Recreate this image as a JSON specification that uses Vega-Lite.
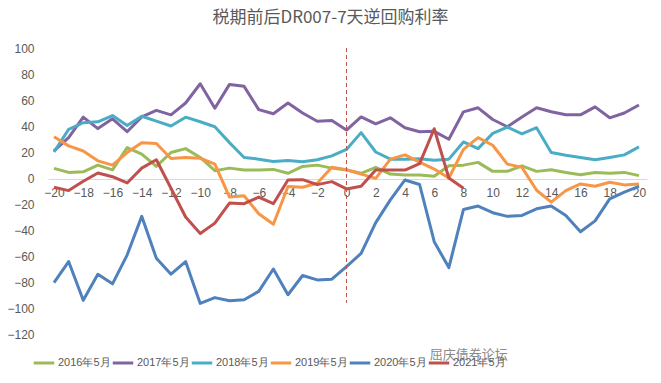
{
  "$schema": "https://vega.github.io/schema/vega-lite/v6.json",
  "width": 599,
  "height": 286,
  "autosize": {"type": "none"},
  "padding": {"left": 48, "top": 48, "right": 14, "bottom": 49},
  "background": "white",
  "config": {
    "view": {"stroke": null},
    "font": "Liberation Sans",
    "axis": {"labelFont": "Liberation Sans", "labelColor": "#595959", "labelFontSize": 12, "labelOverlap": false},
    "legend": {"labelFont": "Liberation Sans", "labelColor": "#595959", "labelFontSize": 11}
  },
  "title": {
    "text": "税期前后DR007-7天逆回购利率",
    "font": "Noto Sans CJK SC",
    "fontSize": 17,
    "fontWeight": "normal",
    "color": "#595959",
    "anchor": "middle",
    "frame": "group",
    "offset": 15,
    "dx": -17
  },
  "datasets": {
    "series": [
      {"s":"2016年5月","x":-20,"v":7.4},{"s":"2016年5月","x":-19,"v":4.3},{"s":"2016年5月","x":-18,"v":4.8},{"s":"2016年5月","x":-17,"v":9.9},{"s":"2016年5月","x":-16,"v":6.3},{"s":"2016年5月","x":-15,"v":23.4},{"s":"2016年5月","x":-14,"v":18.3},{"s":"2016年5月","x":-13,"v":8.9},{"s":"2016年5月","x":-12,"v":19.6},{"s":"2016年5月","x":-11,"v":22.6},{"s":"2016年5月","x":-10,"v":15.8},{"s":"2016年5月","x":-9,"v":5.6},{"s":"2016年5月","x":-8,"v":7.6},{"s":"2016年5月","x":-7,"v":6.1},{"s":"2016年5月","x":-6,"v":6.1},{"s":"2016年5月","x":-5,"v":6.6},{"s":"2016年5月","x":-4,"v":3.6},{"s":"2016年5月","x":-3,"v":8.9},{"s":"2016年5月","x":-2,"v":9.9},{"s":"2016年5月","x":-1,"v":7.6},{"s":"2016年5月","x":0,"v":6.1},{"s":"2016年5月","x":1,"v":3.6},{"s":"2016年5月","x":2,"v":8.2},{"s":"2016年5月","x":3,"v":3.0},{"s":"2016年5月","x":4,"v":2.3},{"s":"2016年5月","x":5,"v":2.3},{"s":"2016年5月","x":6,"v":1.3},{"s":"2016年5月","x":7,"v":9.4},{"s":"2016年5月","x":8,"v":9.9},{"s":"2016年5月","x":9,"v":12.0},{"s":"2016年5月","x":10,"v":5.1},{"s":"2016年5月","x":11,"v":5.1},{"s":"2016年5月","x":12,"v":9.4},{"s":"2016年5月","x":13,"v":5.1},{"s":"2016年5月","x":14,"v":6.3},{"s":"2016年5月","x":15,"v":4.3},{"s":"2016年5月","x":16,"v":2.5},{"s":"2016年5月","x":17,"v":4.3},{"s":"2016年5月","x":18,"v":3.6},{"s":"2016年5月","x":19,"v":4.3},{"s":"2016年5月","x":20,"v":1.8},

      {"s":"2017年5月","x":-20,"v":20.8},{"s":"2017年5月","x":-19,"v":31},{"s":"2017年5月","x":-18,"v":46.8},{"s":"2017年5月","x":-17,"v":38},{"s":"2017年5月","x":-16,"v":45.5},{"s":"2017年5月","x":-15,"v":35.6},{"s":"2017年5月","x":-14,"v":47},{"s":"2017年5月","x":-13,"v":52},{"s":"2017年5月","x":-12,"v":48.6},{"s":"2017年5月","x":-11,"v":57.7},{"s":"2017年5月","x":-10,"v":72.5},{"s":"2017年5月","x":-9,"v":53.7},{"s":"2017年5月","x":-8,"v":72},{"s":"2017年5月","x":-7,"v":70.5},{"s":"2017年5月","x":-6,"v":52.6},{"s":"2017年5月","x":-5,"v":49.4},{"s":"2017年5月","x":-4,"v":57.7},{"s":"2017年5月","x":-3,"v":50},{"s":"2017年5月","x":-2,"v":43.7},{"s":"2017年5月","x":-1,"v":44.2},{"s":"2017年5月","x":0,"v":36.9},{"s":"2017年5月","x":1,"v":47},{"s":"2017年5月","x":2,"v":41.7},{"s":"2017年5月","x":3,"v":46.3},{"s":"2017年5月","x":4,"v":38.7},{"s":"2017年5月","x":5,"v":35.6},{"s":"2017年5月","x":6,"v":35.9},{"s":"2017年5月","x":7,"v":29.8},{"s":"2017年5月","x":8,"v":50.9},{"s":"2017年5月","x":9,"v":54},{"s":"2017年5月","x":10,"v":45},{"s":"2017年5月","x":11,"v":39.4},{"s":"2017年5月","x":12,"v":47},{"s":"2017年5月","x":13,"v":54},{"s":"2017年5月","x":14,"v":51},{"s":"2017年5月","x":15,"v":48.6},{"s":"2017年5月","x":16,"v":48.6},{"s":"2017年5月","x":17,"v":54.7},{"s":"2017年5月","x":18,"v":46.3},{"s":"2017年5月","x":19,"v":50},{"s":"2017年5月","x":20,"v":56.2},

      {"s":"2018年5月","x":-20,"v":20},{"s":"2018年5月","x":-19,"v":37.4},{"s":"2018年5月","x":-18,"v":42.5},{"s":"2018年5月","x":-17,"v":43.2},{"s":"2018年5月","x":-16,"v":48},{"s":"2018年5月","x":-15,"v":40.4},{"s":"2018年5月","x":-14,"v":47.5},{"s":"2018年5月","x":-13,"v":43.7},{"s":"2018年5月","x":-12,"v":40},{"s":"2018年5月","x":-11,"v":46.8},{"s":"2018年5月","x":-10,"v":43.3},{"s":"2018年5月","x":-9,"v":39.4},{"s":"2018年5月","x":-8,"v":27.2},{"s":"2018年5月","x":-7,"v":15.8},{"s":"2018年5月","x":-6,"v":14.5},{"s":"2018年5月","x":-5,"v":12.7},{"s":"2018年5月","x":-4,"v":13.5},{"s":"2018年5月","x":-3,"v":12.5},{"s":"2018年5月","x":-2,"v":14},{"s":"2018年5月","x":-1,"v":17},{"s":"2018年5月","x":0,"v":22},{"s":"2018年5月","x":1,"v":34.9},{"s":"2018年5月","x":2,"v":20},{"s":"2018年5月","x":3,"v":14.5},{"s":"2018年5月","x":4,"v":14.5},{"s":"2018年5月","x":5,"v":14.8},{"s":"2018年5月","x":6,"v":13.7},{"s":"2018年5月","x":7,"v":14.5},{"s":"2018年5月","x":8,"v":27.7},{"s":"2018年5月","x":9,"v":22.6},{"s":"2018年5月","x":10,"v":34.3},{"s":"2018年5月","x":11,"v":39.2},{"s":"2018年5月","x":12,"v":34},{"s":"2018年5月","x":13,"v":38.7},{"s":"2018年5月","x":14,"v":19.6},{"s":"2018年5月","x":15,"v":17.5},{"s":"2018年5月","x":16,"v":15.8},{"s":"2018年5月","x":17,"v":14},{"s":"2018年5月","x":18,"v":15.8},{"s":"2018年5月","x":19,"v":17.8},{"s":"2018年5月","x":20,"v":23.9},

      {"s":"2019年5月","x":-20,"v":31.8},{"s":"2019年5月","x":-19,"v":24.7},{"s":"2019年5月","x":-18,"v":20.8},{"s":"2019年5月","x":-17,"v":13.2},{"s":"2019年5月","x":-16,"v":9.9},{"s":"2019年5月","x":-15,"v":19.6},{"s":"2019年5月","x":-14,"v":27.2},{"s":"2019年5月","x":-13,"v":26.5},{"s":"2019年5月","x":-12,"v":15},{"s":"2019年5月","x":-11,"v":15.8},{"s":"2019年5月","x":-10,"v":15.2},{"s":"2019年5月","x":-9,"v":10.7},{"s":"2019年5月","x":-8,"v":-14.7},{"s":"2019年5月","x":-7,"v":-13.7},{"s":"2019年5月","x":-6,"v":-27.5},{"s":"2019年5月","x":-5,"v":-35.6},{"s":"2019年5月","x":-4,"v":-6.6},{"s":"2019年5月","x":-3,"v":-7.1},{"s":"2019年5月","x":-2,"v":-4},{"s":"2019年5月","x":-1,"v":8.2},{"s":"2019年5月","x":0,"v":6.3},{"s":"2019年5月","x":1,"v":3},{"s":"2019年5月","x":2,"v":-0.3},{"s":"2019年5月","x":3,"v":14.5},{"s":"2019年5月","x":4,"v":17.8},{"s":"2019年5月","x":5,"v":12.2},{"s":"2019年5月","x":6,"v":6.9},{"s":"2019年5月","x":7,"v":0},{"s":"2019年5月","x":8,"v":22},{"s":"2019年5月","x":9,"v":31},{"s":"2019年5月","x":10,"v":25.2},{"s":"2019年5月","x":11,"v":10.7},{"s":"2019年5月","x":12,"v":8.2},{"s":"2019年5月","x":13,"v":-9.4},{"s":"2019年5月","x":14,"v":-18.6},{"s":"2019年5月","x":15,"v":-9.7},{"s":"2019年5月","x":16,"v":-4.6},{"s":"2019年5月","x":17,"v":-6.4},{"s":"2019年5月","x":18,"v":-3.3},{"s":"2019年5月","x":19,"v":-5.3},{"s":"2019年5月","x":20,"v":-4.6},

      {"s":"2020年5月","x":-20,"v":-80.4},{"s":"2020年5月","x":-19,"v":-64.3},{"s":"2020年5月","x":-18,"v":-94.1},{"s":"2020年5月","x":-17,"v":-74},{"s":"2020年5月","x":-16,"v":-81.4},{"s":"2020年5月","x":-15,"v":-59.3},{"s":"2020年5月","x":-14,"v":-29.5},{"s":"2020年5月","x":-13,"v":-61.8},{"s":"2020年5月","x":-12,"v":-74},{"s":"2020年5月","x":-11,"v":-64.3},{"s":"2020年5月","x":-10,"v":-96.5},{"s":"2020年5月","x":-9,"v":-92},{"s":"2020年5月","x":-8,"v":-94.4},{"s":"2020年5月","x":-7,"v":-93.6},{"s":"2020年5月","x":-6,"v":-87.2},{"s":"2020年5月","x":-5,"v":-70},{"s":"2020年5月","x":-4,"v":-89.8},{"s":"2020年5月","x":-3,"v":-75},{"s":"2020年5月","x":-2,"v":-78.4},{"s":"2020年5月","x":-1,"v":-77.8},{"s":"2020年5月","x":0,"v":-68.1},{"s":"2020年5月","x":1,"v":-58},{"s":"2020年5月","x":2,"v":-34.3},{"s":"2020年5月","x":3,"v":-16.8},{"s":"2020年5月","x":4,"v":-1.5},{"s":"2020年5月","x":5,"v":-5},{"s":"2020年5月","x":6,"v":-49},{"s":"2020年5月","x":7,"v":-68.9},{"s":"2020年5月","x":8,"v":-24.2},{"s":"2020年5月","x":9,"v":-21.6},{"s":"2020年5月","x":10,"v":-26.7},{"s":"2020年5月","x":11,"v":-29.5},{"s":"2020年5月","x":12,"v":-28.8},{"s":"2020年5月","x":13,"v":-23.7},{"s":"2020年5月","x":14,"v":-21.6},{"s":"2020年5月","x":15,"v":-28.8},{"s":"2020年5月","x":16,"v":-41.4},{"s":"2020年5月","x":17,"v":-33},{"s":"2020年5月","x":18,"v":-16},{"s":"2020年5月","x":19,"v":-10.9},{"s":"2020年5月","x":20,"v":-6.4},

      {"s":"2021年5月","x":-20,"v":-7.1},{"s":"2021年5月","x":-19,"v":-9.7},{"s":"2021年5月","x":-18,"v":-2.5},{"s":"2021年5月","x":-17,"v":3.8},{"s":"2021年5月","x":-16,"v":1},{"s":"2021年5月","x":-15,"v":-3.8},{"s":"2021年5月","x":-14,"v":7.6},{"s":"2021年5月","x":-13,"v":14},{"s":"2021年5月","x":-12,"v":-7.9},{"s":"2021年5月","x":-11,"v":-30},{"s":"2021年5月","x":-10,"v":-42.7},{"s":"2021年5月","x":-9,"v":-34.7},{"s":"2021年5月","x":-8,"v":-19.3},{"s":"2021年5月","x":-7,"v":-19.8},{"s":"2021年5月","x":-6,"v":-14.7},{"s":"2021年5月","x":-5,"v":-19.8},{"s":"2021年5月","x":-4,"v":-1.5},{"s":"2021年5月","x":-3,"v":-1.3},{"s":"2021年5月","x":-2,"v":-5.1},{"s":"2021年5月","x":-1,"v":-2.8},{"s":"2021年5月","x":0,"v":-8.4},{"s":"2021年5月","x":1,"v":-6.4},{"s":"2021年5月","x":2,"v":6.1},{"s":"2021年5月","x":3,"v":6.1},{"s":"2021年5月","x":4,"v":6.1},{"s":"2021年5月","x":5,"v":11},{"s":"2021年5月","x":6,"v":37.9},{"s":"2021年5月","x":7,"v":0},{"s":"2021年5月","x":8,"v":-7.9}
    ],
    "marker": [{"x": 0, "top": 100, "bottom": -96}],
    "mark": [{"x": 5.7, "y": -136, "t": "屈庆债券论坛"}]
  },
  "layer": [
    {
      "data": {"name": "series"},
      "mark": {"type": "line", "strokeWidth": 3, "strokeJoin": "round", "clip": false},
      "encoding": {
        "x": {
          "field": "x", "type": "quantitative",
          "scale": {"domain": [-20.41, 20.55], "nice": false, "zero": false},
          "axis": {
            "title": null, "values": [-20,-18,-16,-14,-12,-10,-8,-6,-4,-2,0,2,4,6,8,10,12,14,16,18,20],
            "tickCount": 100, "format": "d",
            "offset": -155, "ticks": false, "grid": false, "labelOverlap": false,
            "domainColor": "#D9D9D9", "domainWidth": 1, "labelPadding": 8, "labelFlush": false, "labelBound": false
          }
        },
        "y": {
          "field": "v", "type": "quantitative",
          "scale": {"domain": [-120, 100], "nice": false},
          "axis": {
            "title": null, "values": [-120,-100,-80,-60,-40,-20,0,20,40,60,80,100],
            "tickCount": 100, "format": "d",
            "domain": false, "ticks": false, "grid": false, "labelPadding": 14,
            "labelOverlap": false, "labelFlush": false, "labelBound": false
          }
        },
        "color": {
          "field": "s", "type": "nominal",
          "scale": {
            "domain": ["2016年5月","2017年5月","2018年5月","2019年5月","2020年5月","2021年5月"],
            "range": ["#9BBB59","#8064A2","#4BACC6","#F79646","#4F81BD","#C0504D"]
          },
          "legend": {
            "title": null, "orient": "none", "direction": "horizontal", "columns": 6,
            "legendX": -16, "legendY": 303,
            "symbolType": "stroke", "symbolStrokeWidth": 3, "symbolSize": 420,
            "labelOffset": 2, "columnPadding": -15
          }
        },
        "order": {"field": "x", "type": "quantitative"}
      }
    },
    {
      "data": {"name": "marker"},
      "mark": {"type": "rule", "color": "#C0504D", "strokeWidth": 1, "strokeDash": [4, 3]},
      "encoding": {
        "x": {"field": "x", "type": "quantitative"},
        "y": {"field": "top", "type": "quantitative"},
        "y2": {"field": "bottom"}
      }
    },
    {
      "data": {"name": "mark"},
      "mark": {"type": "text", "align": "left", "baseline": "middle", "font": "Noto Sans CJK SC", "fontSize": 13, "color": "#8a8a8a", "clip": false},
      "encoding": {
        "x": {"field": "x", "type": "quantitative"},
        "y": {"field": "y", "type": "quantitative"},
        "text": {"field": "t"}
      }
    }
  ]
}
